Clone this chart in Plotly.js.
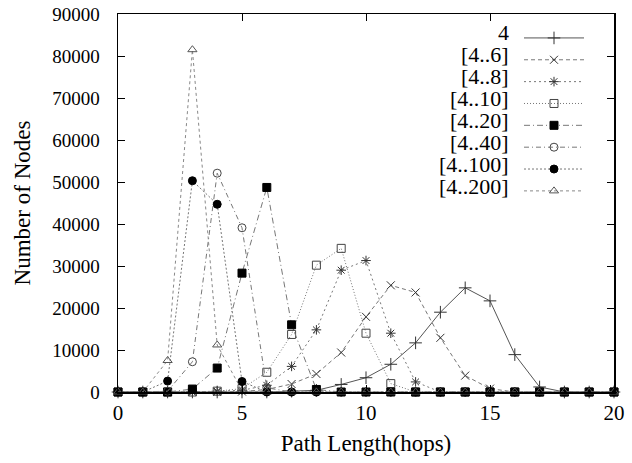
<!DOCTYPE html>
<html>
<head>
<meta charset="utf-8">
<script src="https://cdn.plot.ly/plotly-3.0.1.min.js"></script>
<style>html,body{margin:0;padding:0;background:#fff;}#chart{width:632px;height:463px;}</style>
</head>
<body>
<div id="chart"></div>
<script>
// Path length in hops
var hops = [0,1,2,3,4,5,6,7,8,9,10,11,12,13,14,15,16,17,18,19,20];
// Series names
var seriesNames = ["4", "[4..6]", "[4..8]", "[4..10]", "[4..20]", "[4..40]", "[4..100]", "[4..200]"];
// Number of nodes per path length
var nodes4    = [0,0,0,0,0,0,0,200,400,1800,3400,6600,11700,19000,24800,21700,8900,1200,0,0,0];
var nodes4_6  = [0,0,0,0,0,100,600,1900,4300,9400,17900,25400,23700,12900,3900,800,0,0,0,0,0];
var nodes4_8  = [0,0,0,0,200,400,1600,6100,14800,29000,31300,14000,2400,0,0,0,0,0,0,0,0];
var nodes4_10 = [0,0,0,0,200,800,4700,13700,30200,34200,14000,2000,0,0,0,0,0,0,0,0,0];
var nodes4_20 = [0,0,0,700,5700,28300,48700,16000,600,0,0,0,0,0,0,0,0,0,0,0,0];
var nodes4_40 = [0,0,200,7200,52100,39100,1000,0,0,0,0,0,0,0,0,0,0,0,0,0,0];
var nodes4_100= [0,0,2600,50300,44700,2500,0,0,0,0,0,0,0,0,0,0,0,0,0,0,0];
var nodes4_200= [0,0,7500,81500,11200,300,0,0,0,0,0,0,0,0,0,0,0,0,0,0,0];
var seriesValues = [nodes4, nodes4_6, nodes4_8, nodes4_10, nodes4_20, nodes4_40, nodes4_100, nodes4_200];

var styles = [
  {dash:"solid", lc:"#555", sym:"cross-thin-open", mc:"#333", size:9},
  {dash:"4px,3px", lc:"#777", sym:"x-thin-open", mc:"#333", size:8},
  {dash:"2px,3px", lc:"#777", sym:"asterisk-open", mc:"#333", size:8},
  {dash:"1px,2px", lc:"#777", sym:"square-open", mc:"#444", size:8},
  {dash:"6px,3px,1px,3px", lc:"#777", sym:"square", mc:"#000", size:8},
  {dash:"5px,3px,1px,3px", lc:"#777", sym:"circle-open", mc:"#444", size:8},
  {dash:"2px,2px", lc:"#777", sym:"circle", mc:"#000", size:8},
  {dash:"3px,3px", lc:"#888", sym:"triangle-up-open", mc:"#555", size:8}
];

var traces = seriesValues.map(function(vals, i){
  var s = styles[i];
  return {
    x: hops, y: vals, type: "scatter", mode: "lines+markers",
    name: "\u00a0", cliponaxis: false,
    line: {color: s.lc, width: 1, dash: s.dash},
    marker: {symbol: s.sym, color: s.mc, size: s.size, line: {width: 1, color: s.mc}}
  };
});

var FONT = "'Liberation Serif', 'Times New Roman', serif";
var plotL = 118, plotR = 614, plotT = 14, plotB = 392;
var annots = seriesNames.map(function(n, i){
  var py = 33 + 21.9 * i;
  return {
    text: n, xref: "paper", yref: "paper",
    x: (511 - plotL) / (plotR - plotL), y: (plotB - py) / (plotB - plotT),
    xanchor: "right", yanchor: "middle", showarrow: false,
    font: {family: FONT, size: 22, color: "#000"}
  };
});

var layout = {
  width: 632, height: 463,
  margin: {l: plotL, r: 632 - plotR, t: plotT, b: 463 - plotB, pad: 0},
  paper_bgcolor: "#fff", plot_bgcolor: "#fff",
  font: {family: FONT, size: 20, color: "#000"},
  showlegend: true,
  legend: {
    x: (519 - plotL) / (plotR - plotL), y: (plotB - 22) / (plotB - plotT),
    xanchor: "left", yanchor: "top", bgcolor: "rgba(0,0,0,0)",
    font: {family: FONT, size: 14.5}, itemwidth: 60, tracegroupgap: 0,
    traceorder: "normal"
  },
  xaxis: {
    range: [0, 20], tickvals: [0,5,10,15,20], ticks: "inside", ticklen: 7,
    tickcolor: "#000", mirror: "allticks", showline: true, linecolor: "#000", linewidth: 1.5,
    showgrid: false, zeroline: false,
    tickfont: {family: FONT, size: 21}, ticklabelstandoff: 1,
    title: {text: "Path Length(hops)", font: {family: FONT, size: 23}, standoff: 11}
  },
  yaxis: {
    range: [0, 90000], dtick: 10000, tick0: 0, tickformat: "d", ticks: "inside", ticklen: 7,
    tickcolor: "#000", mirror: "allticks", showline: true, linecolor: "#000", linewidth: 1.5,
    showgrid: false, zeroline: false,
    tickfont: {family: FONT, size: 19}, ticklabelstandoff: 13,
    title: {text: "Number of Nodes", font: {family: FONT, size: 23}, standoff: 15}
  },
  annotations: annots
};

Plotly.newPlot("chart", traces, layout, {staticPlot: true, displayModeBar: false});
</script>
</body>
</html>
